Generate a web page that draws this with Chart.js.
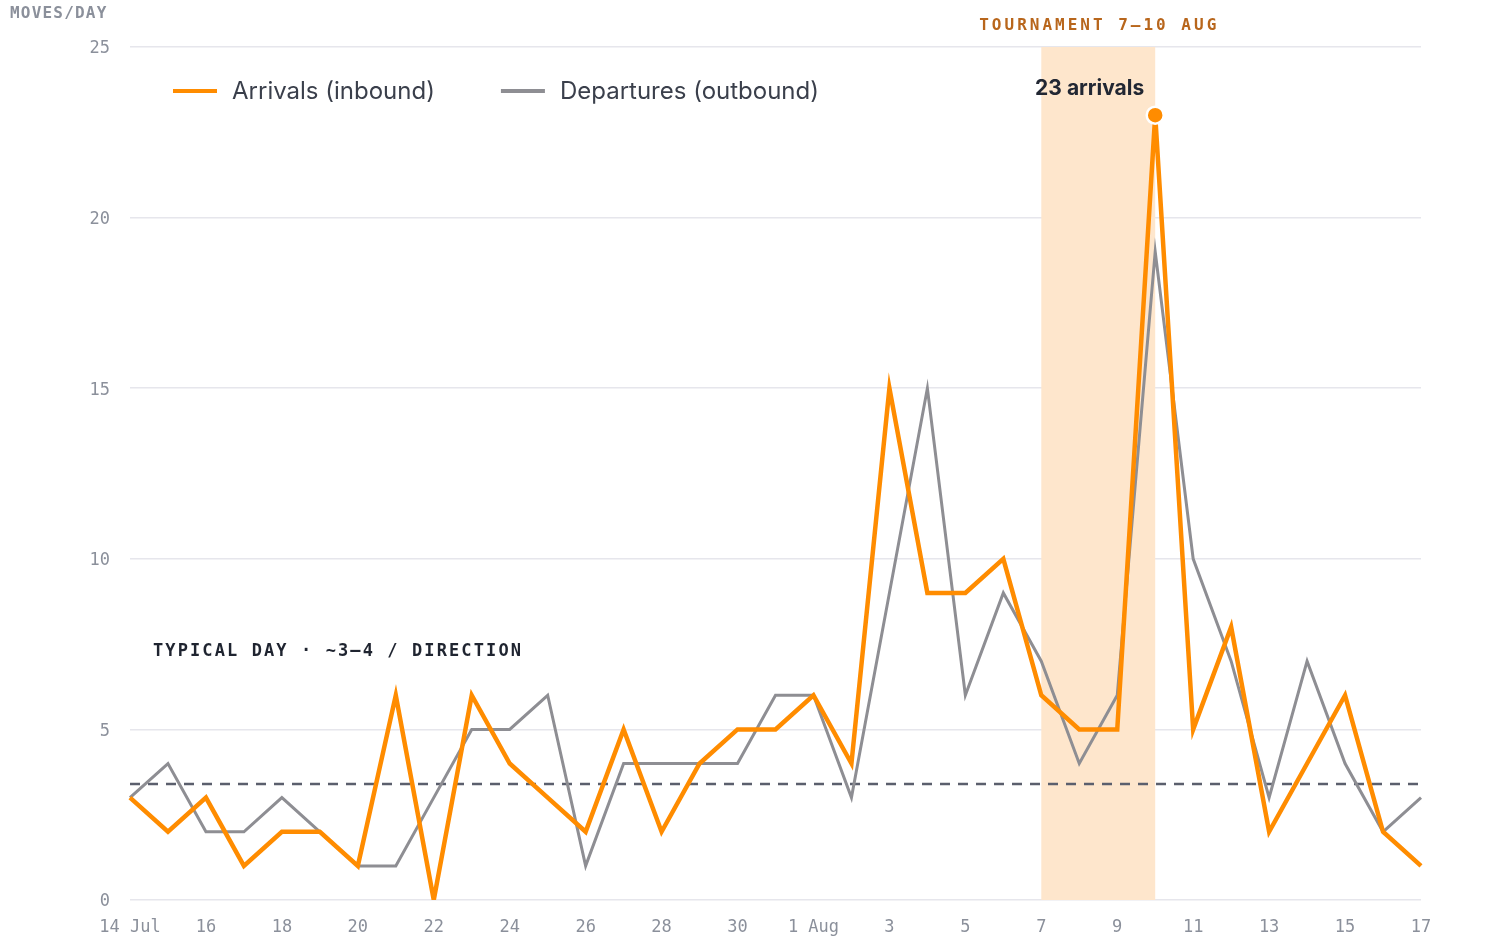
<!DOCTYPE html>
<html>
<head>
<meta charset="utf-8">
<script src="https://cdn.jsdelivr.net/npm/chart.js@4.4.1/dist/chart.umd.min.js"></script>
<style>
  html, body { margin: 0; padding: 0; background: #ffffff; }
  #wrap { width: 1498px; height: 951px; }
</style>
</head>
<body>
<div id="wrap"><canvas id="movesChart" width="1498" height="951"></canvas></div>
<script>
//days 14 Jul .. 17 Aug
var dayLabels = ['14 Jul', '15', '16', '17', '18', '19', '20', '21', '22', '23', '24', '25',
    '26', '27', '28', '29', '30', '31', '1 Aug', '2', '3', '4', '5', '6', '7', '8', '9',
    '10', '11', '12', '13', '14', '15', '16', '17'];
//arrivals per day
var arrivals = [3, 2, 3, 1, 2, 2, 1, 6, 0, 6, 4, 3, 2, 5, 2, 4, 5, 5, 6, 4, 15, 9, 9, 10,
    6, 5, 5, 23, 5, 8, 2, 4, 6, 2, 1];
//departures per day
var departures = [3, 4, 2, 2, 3, 2, 1, 1, 3, 5, 5, 6, 1, 4, 4, 4, 4, 6, 6, 3, 9, 15, 6, 9,
    7, 4, 6, 19, 10, 7, 3, 7, 4, 2, 3];
var yTicks = [0, 5, 10, 15, 20, 25];
var typicalLevel = 3.4;
var tournamentDays = ['7', '10']; //first and last day of the band (Aug)
var tournamentStart = 24;
var tournamentEnd = 27;

var MONO = '"DejaVu Sans Mono", monospace';
var SANS = 'Inter, "Noto Sans", sans-serif';
var ORANGE = '#ff8c00';
var GREY = '#8e8e93';

var peakIndex = arrivals.indexOf(Math.max.apply(null, arrivals));

//band, dashed typical line, labels and legend
var annotations = {
    id: 'annotations',
    beforeDatasetsDraw: function (chart) {
        var ctx = chart.ctx;
        var area = chart.chartArea;
        var x = chart.scales.x;
        var y = chart.scales.y;
        ctx.save();
        var x0 = x.getPixelForValue(tournamentStart);
        var x1 = x.getPixelForValue(tournamentEnd);
        ctx.fillStyle = '#fee6cc';
        ctx.fillRect(x0, area.top, x1 - x0, area.bottom - area.top);

        var yl = y.getPixelForValue(typicalLevel);
        ctx.strokeStyle = '#5b5f6d';
        ctx.lineWidth = 2.5;
        ctx.setLineDash([10, 8]);
        ctx.beginPath();
        ctx.moveTo(area.left, yl);
        ctx.lineTo(area.right, yl);
        ctx.stroke();
        ctx.restore();
    },
    afterDraw: function (chart) {
        var ctx = chart.ctx;
        var area = chart.chartArea;
        var x = chart.scales.x;
        var y = chart.scales.y;
        ctx.save();
        ctx.textBaseline = 'middle';

        //axis title
        ctx.font = 'bold 16px ' + MONO;
        ctx.fillStyle = '#8b909b';
        ctx.letterSpacing = '1.2px';
        ctx.textAlign = 'left';
        ctx.fillText('MOVES/DAY', 10, 14);

        //tournament title
        var bandMid = (x.getPixelForValue(tournamentStart) + x.getPixelForValue(tournamentEnd)) / 2;
        ctx.font = 'bold 16px ' + MONO;
        ctx.fillStyle = '#b8661c';
        ctx.letterSpacing = '3px';
        ctx.textAlign = 'center';
        ctx.fillText('TOURNAMENT ' + tournamentDays[0] + '\u2013' + tournamentDays[1] + ' AUG', bandMid + 1, 26);

        //typical note
        ctx.font = 'bold 17px ' + MONO;
        ctx.fillStyle = '#1f2430';
        ctx.letterSpacing = '2.1px';
        ctx.textAlign = 'left';
        ctx.fillText('TYPICAL DAY \u00b7 ~3\u20134 / DIRECTION', 153, 652);

        //peak label
        var px = x.getPixelForValue(peakIndex);
        var py = y.getPixelForValue(arrivals[peakIndex]);
        ctx.letterSpacing = '0px';
        ctx.font = 'bold 21px ' + SANS;
        ctx.fillStyle = '#222733';
        ctx.textAlign = 'right';
        ctx.fillText(arrivals[peakIndex] + ' arrivals', px - 11, py - 27);

        //legend
        var lx = area.left + 43;
        var ly = area.top + 44;
        ctx.font = '24px ' + SANS;
        ctx.textAlign = 'left';
        chart.data.datasets.forEach(function (ds) {
            ctx.strokeStyle = ds.borderColor;
            ctx.lineWidth = 4;
            ctx.beginPath();
            ctx.moveTo(lx, ly);
            ctx.lineTo(lx + 44, ly);
            ctx.stroke();
            ctx.fillStyle = '#3a3f4b';
            ctx.fillText(ds.label, lx + 59, ly + 1);
            lx += 59 + ctx.measureText(ds.label).width + 66;
        });
        ctx.restore();
    }
};

var config = {
    type: 'line',
    data: {
        labels: dayLabels,
        datasets: [
            {
                label: 'Arrivals (inbound)',
                data: arrivals,
                borderColor: ORANGE,
                backgroundColor: ORANGE,
                borderWidth: 4.5,
                tension: 0,
                pointRadius: function (c) { return c.dataIndex === peakIndex ? 8.5 : 0; },
                pointBorderWidth: 2.5,
                pointBorderColor: '#ffffff',
                pointBackgroundColor: ORANGE
            },
            {
                label: 'Departures (outbound)',
                data: departures,
                borderColor: GREY,
                backgroundColor: GREY,
                borderWidth: 3,
                tension: 0,
                pointRadius: 0
            }
        ]
    },
    options: {
        responsive: false,
        animation: false,
        layout: { padding: { left: 0, top: 47, right: 77, bottom: 0 } },
        plugins: {
            legend: { display: false },
            tooltip: { enabled: false }
        },
        scales: {
            x: {
                grid: { display: false },
                border: { display: false },
                afterFit: function (scale) { scale.height = 51; },
                ticks: {
                    autoSkip: false,
                    maxRotation: 0,
                    padding: 9,
                    color: '#8b909b',
                    font: { family: MONO, size: 17 },
                    callback: function (value, index) {
                        return index % 2 === 0 ? dayLabels[index] : '';
                    }
                }
            },
            y: {
                min: 0,
                max: 25,
                afterFit: function (scale) { scale.width = 130; },
                afterBuildTicks: function (scale) {
                    scale.ticks = yTicks.map(function (v) { return { value: v }; });
                },
                grid: { color: '#e6e6ec', lineWidth: 1.5, drawTicks: false },
                border: { display: false },
                ticks: {
                    padding: 20,
                    labelOffset: 2,
                    color: '#8b909b',
                    font: { family: MONO, size: 17 }
                }
            }
        }
    },
    plugins: [annotations]
};

new Chart(document.getElementById('movesChart'), config);
</script>
</body>
</html>
